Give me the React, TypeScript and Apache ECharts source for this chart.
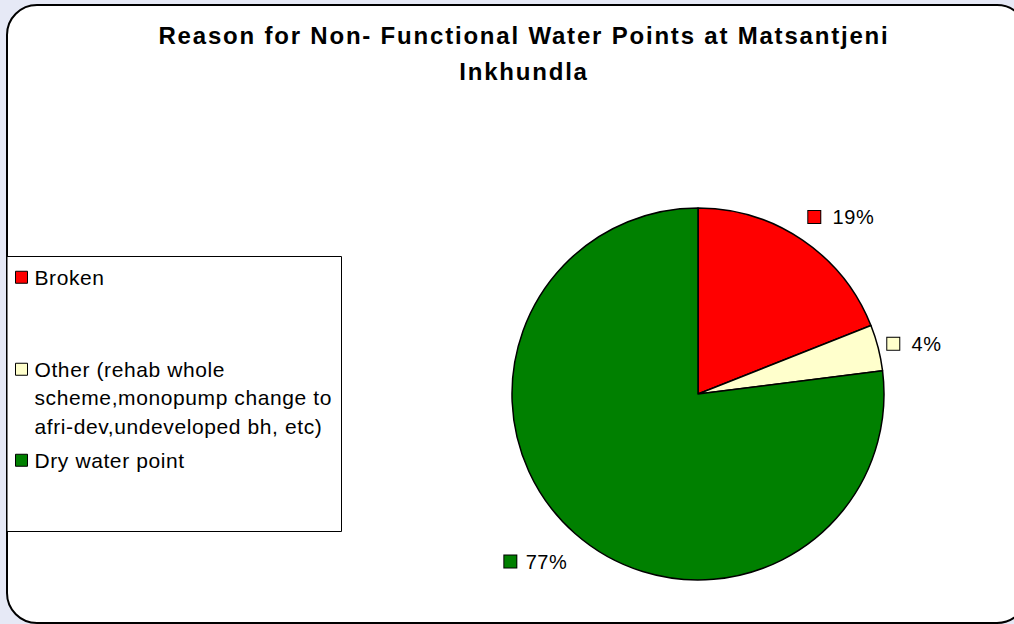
import React, { useEffect, useRef } from "react";
import * as echarts from "echarts";

// Chart text
const TITLE_LINES = [
  "Reason for Non- Functional Water Points at Matsantjeni",
  "Inkhundla",
];

// Categories, their wrapped legend text and their shares (percent)
const categories = [
  "Broken",
  "Other (rehab whole scheme,monopump change to afri-dev,undeveloped bh, etc)",
  "Dry water point",
];
const legendLines = [
  ["Broken"],
  ["Other (rehab whole", "scheme,monopump change to", "afri-dev,undeveloped bh, etc)"],
  ["Dry water point"],
];
const shares = [19, 4, 77];
const colors = ["#ff0000", "#ffffcc", "#008000"];

const FONT = "'Liberation Sans', Arial, sans-serif";

export default function App() {
  const ref = useRef<HTMLDivElement>(null);

  useEffect(() => {
    if (!ref.current) return;
    const chart = echarts.init(ref.current, undefined, { renderer: "svg" });

    // Each legend entry is placed on its own. The legend text is centred on its key,
    // so the wrapped entry gets blank lines in front to keep its key on the first line.
    const legendTops = [263, 298, 446];
    const legends = categories.map((name, i) => {
      const lines = legendLines[i];
      const lead = new Array(lines.length - 1).fill("");
      return {
        data: [name],
        orient: "vertical",
        left: 15,
        top: legendTops[i],
        padding: 0,
        itemWidth: 12,
        itemHeight: 12,
        icon: "rect",
        selectedMode: false,
        itemStyle: { borderColor: "#000", borderWidth: 1 },
        textStyle: {
          fontFamily: FONT,
          fontSize: 21,
          color: "#000",
          lineHeight: 28.5,
          padding: [0, 0, 0, 2],
        },
        formatter: () => lead.concat(lines).join("\n"),
      };
    });

    // small nudges of the outside percentage labels
    const labelNudge = [
      [0, 0],
      [-8, 3],
      [1, 7],
    ];

    chart.setOption({
      animation: false,
      backgroundColor: "#e6e9f6",
      title: {
        text: TITLE_LINES.join("\n"),
        left: 524,
        top: 18,
        padding: 0,
        textAlign: "center",
        textStyle: {
          fontFamily: FONT,
          fontWeight: "bold",
          fontSize: 24,
          lineHeight: 35.5,
          color: "#000",
        },
      },
      graphic: [
        {
          type: "rect",
          z: -10,
          silent: true,
          shape: { x: 7, y: 5, width: 1020, height: 618, r: 30 },
          style: { fill: "#fff", stroke: "#000", lineWidth: 2 },
        },
        {
          type: "rect",
          z: -5,
          silent: true,
          shape: { x: 7, y: 256.5, width: 334.5, height: 275 },
          style: { fill: "#fff", stroke: "#000", lineWidth: 1 },
        },
      ],
      legend: legends,
      series: [
        {
          type: "pie",
          center: [698, 394],
          radius: 186,
          startAngle: 90,
          clockwise: true,
          avoidLabelOverlap: false,
          silent: true,
          emphasis: { disabled: true },
          itemStyle: { borderColor: "#000", borderWidth: 1.5 },
          label: {
            show: true,
            position: "outside",
            formatter: "{sq|}  {c}%",
            fontFamily: FONT,
            fontSize: 20,
            color: "#000",
            distanceToLabelLine: -10,
            rich: {
              sq: { width: 12, height: 12, borderColor: "#000", borderWidth: 1 },
            },
          },
          labelLine: { show: false, length: 28, length2: 0 },
          labelLayout: (params: any) => {
            const n = labelNudge[params.dataIndex] || [0, 0];
            return { dx: n[0], dy: n[1] };
          },
          data: categories.map((name, i) => ({
            name,
            value: shares[i],
            itemStyle: { color: colors[i] },
            label: {
              rich: {
                sq: {
                  width: 12,
                  height: 12,
                  borderColor: "#000",
                  borderWidth: 1,
                  backgroundColor: colors[i],
                },
              },
            },
          })),
        },
      ],
    });

    return () => chart.dispose();
  }, []);

  return (
    <>
      <style>{`
        #chart-host svg text { letter-spacing: 0.6px; }
        #chart-host svg text[style*="bold"] { letter-spacing: 1.8px; }
      `}</style>
      <div
        id="chart-host"
        ref={ref}
        style={{ position: "absolute", left: 0, top: 0, width: 1014, height: 624 }}
      />
    </>
  );
}
